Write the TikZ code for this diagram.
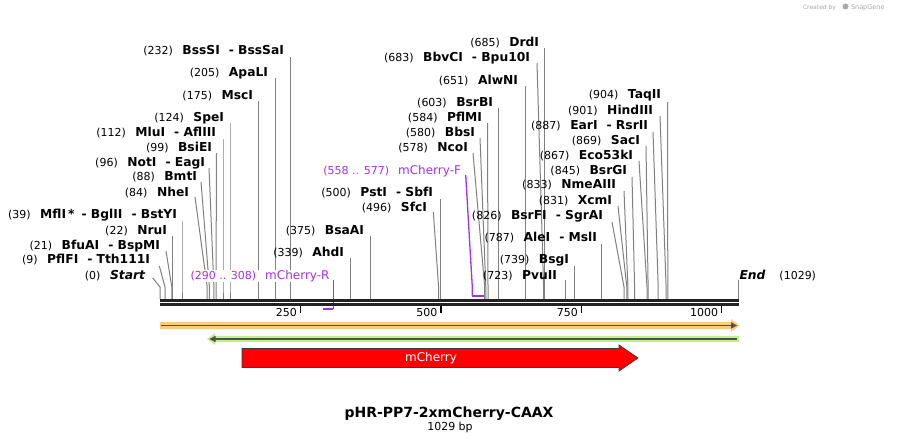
\documentclass[tikz,border=0pt]{standalone}
\usepackage{fontspec}
\setmainfont{DejaVu Sans}
\usetikzlibrary{arrows.meta}
\definecolor{cutgray}{RGB}{128,128,128}
\definecolor{primer}{RGB}{160,50,235}
\definecolor{seqblack}{RGB}{34,34,34}
\definecolor{orangefeat}{RGB}{250,204,125}
\definecolor{greenfeat}{RGB}{192,240,140}
\definecolor{featline}{RGB}{80,80,80}
\definecolor{cdsred}{RGB}{255,0,0}
\definecolor{cdsedge}{RGB}{60,60,60}
\definecolor{logogray}{RGB}{170,170,170}
\newcommand{\posn}[1]{{\fontsize{11}{13}\selectfont(#1)}\hspace{9.5pt}}
\newcommand{\enzn}[1]{{\fontsize{12.3}{14}\selectfont\bfseries #1}}
\newcommand{\sepn}{\hspace{9pt}}
\newcommand{\enz}[7]{%
  \node[lbl, anchor=base east] (#1) at (#2,#3+4.4) {#7};
  \coordinate (#1s) at (#4,#5);
  \coordinate (#1b) at (#6,287);
  \coordinate (#1p) at (#6,299);
  \draw[cutline] (#1s) -- (#1b) -- (#1p);
}
\tikzset{
  lbl/.style={inner sep=0pt, outer sep=0pt},
  cutline/.style={draw=cutgray, line width=1pt},
  primerline/.style={draw=primer, line width=1.3pt},
  primerbar/.style={draw=primer, line width=2pt},
  seqline/.style={draw=seqblack, line width=2.8pt},
  tickmark/.style={draw=black, line width=1.5pt},
  ticklbl/.style={inner sep=0pt, anchor=base east, font=\fontsize{11}{13}\selectfont}
}
\begin{document}
\begin{tikzpicture}[x=1pt,y=-1pt]
\useasboundingbox (0,0) rectangle (899,444);
\fill[white] (0,0) rectangle (899,444);

% logo
\node[lbl, anchor=base west, text=logogray, font=\fontsize{6}{7}\selectfont] (cr) at (803,10) {Created by};
\fill[logogray] (845.5,6.5) circle (3);
\node[lbl, anchor=base west, text=logogray, font=\fontsize{6.5}{7}\selectfont] (sg) at (851,10) {SnapGene};

% left cluster
\enz{eA}{284}{50}{290.3}{57}{290.3}{\posn{232}\enzn{BssSI}\sepn\enzn{- BssSaI}}
\enz{eB}{268}{72}{275.2}{78}{275.2}{\posn{205}\enzn{ApaLI}}
\enz{eC}{253}{95}{258.3}{101}{258.3}{\posn{175}\enzn{MscI}}
\enz{eD}{224}{117}{230}{123}{230}{\posn{124}\enzn{SpeI}}
\enz{eE}{216}{132}{223}{139}{223}{\posn{112}\enzn{MluI}\sepn\enzn{- AflIII}}
\enz{eF}{212}{147}{216.5}{153}{216}{\posn{99}\enzn{BsiEI}}
\enz{eG}{205}{162}{209}{168}{213.9}{\posn{96}\enzn{NotI}\sepn\enzn{- EagI}}
\enz{eH}{197}{176}{201}{182}{209.4}{\posn{88}\enzn{BmtI}}
\enz{eI}{189}{192}{195}{197}{207.2}{\posn{84}\enzn{NheI}}
\enz{eJ}{177}{214}{182}{221}{182}{\posn{39}\enzn{MflI\,*}\hspace{7pt}\enzn{- BglII}\sepn\enzn{- BstYI}}
\enz{eK}{167}{230}{172.4}{236}{172.4}{\posn{22}\enzn{NruI}}
\enz{eL}{160}{245}{166}{251}{171.8}{\posn{21}\enzn{BfuAI}\sepn\enzn{- BspMI}}
\enz{eM}{150}{259}{159.3}{266}{165}{\posn{9}\enzn{PflFI}\sepn\enzn{- Tth111I}}
\enz{eN}{145}{275}{152.7}{278}{160}{\posn{0}{\fontsize{12.3}{14}\selectfont\bfseries\itshape Start}}

% middle cluster
\enz{eO}{364}{230}{370.5}{236}{370.5}{\posn{375}\enzn{BsaAI}}
\enz{eP}{344}{252}{350.4}{258}{350.4}{\posn{339}\enzn{AhdI}}
\enz{eQ}{433}{192}{440.7}{199}{440.7}{\posn{500}\enzn{PstI}\sepn\enzn{- SbfI}}
\enz{eR}{427}{207}{433.3}{212}{438.6}{\posn{496}\enzn{SfcI}}
\enz{eS}{468}{147}{473}{153}{484.7}{\posn{578}\enzn{NcoI}}
\enz{eT}{475}{132}{480}{138}{485.8}{\posn{580}\enzn{BbsI}}
\enz{eU}{482}{117}{487.5}{123}{488}{\posn{584}\enzn{PflMI}}
\enz{eV}{493}{102}{498.7}{108}{498.7}{\posn{603}\enzn{BsrBI}}
\enz{eW}{518}{80}{525.7}{86}{525.7}{\posn{651}\enzn{AlwNI}}
\enz{eX}{530}{57}{537}{63}{543.6}{\posn{683}\enzn{BbvCI}\sepn\enzn{- Bpu10I}}
\enz{eY}{539}{42}{544.6}{48}{544.6}{\posn{685}\enzn{DrdI}}
\enz{eZ}{557}{275}{565.8}{280}{565.8}{\posn{723}\enzn{PvuII}}

% right cluster
\enz{fA}{569}{259}{574.7}{266}{574.7}{\posn{739}\enzn{BsgI}}
\enz{fB}{597}{237}{601.7}{244}{601.7}{\posn{787}\enzn{AleI}\sepn\enzn{- MslI}}
\enz{fC}{603}{215}{612}{222}{624}{\posn{826}\enzn{BsrFI}\sepn\enzn{- SgrAI}}
\enz{fD}{612}{200}{618}{206}{626.8}{\posn{831}\enzn{XcmI}}
\enz{fE}{616}{184}{624}{191}{627.9}{\posn{833}\enzn{NmeAIII}}
\enz{fF}{627}{170}{632}{177}{634.6}{\posn{845}\enzn{BsrGI}}
\enz{fG}{633}{155}{639}{161}{647}{\posn{867}\enzn{Eco53kI}}
\enz{fH}{640}{140}{646}{146}{648.1}{\posn{869}\enzn{SacI}}
\enz{fI}{648}{125}{653}{132}{658.2}{\posn{887}\enzn{EarI}\sepn\enzn{- RsrII}}
\enz{fJ}{653}{110}{660}{116}{666.1}{\posn{901}\enzn{HindIII}}
\enz{fK}{661}{94}{667.5}{102}{667.8}{\posn{904}\enzn{TaqII}}

% End
\node[lbl, anchor=base west] (endl) at (739.5,279.4) {{\fontsize{12.3}{14}\selectfont\bfseries\itshape End}\hspace{14pt}{\fontsize{11}{13}\selectfont(1029)}};
\coordinate (ends) at (738.3,280);
\coordinate (endp) at (738.3,299);
\draw[cutline] (ends) -- (endp);

% primers
\node[lbl, anchor=base east, text=primer, fill=white, inner sep=0.5pt] (pR) at (330,279.4) {{\fontsize{11}{13}\selectfont(290 .. 308)}\hspace{9pt}{\fontsize{12}{14}\selectfont mCherry-R}};
\coordinate (pRs) at (333.3,280);
\coordinate (pRb) at (333.3,309.3);
\coordinate (pRe) at (323,309.3);
\draw[primerline] (pRs) -- (pRb);
\draw[primerbar] (pRb) -- (pRe);

\node[lbl, anchor=base east, text=primer] (pF) at (461,174.4) {{\fontsize{11}{13}\selectfont(558 .. 577)}\hspace{9pt}{\fontsize{12}{14}\selectfont mCherry-F}};
\coordinate (pFs) at (465.7,175);
\coordinate (pFb) at (472.3,287);
\coordinate (pFc) at (472.3,295.7);
\coordinate (pFe) at (483.5,295.7);
\draw[primerline] (pFs) -- (pFb) -- (pFc);
\draw[primerbar] (pFc) -- (pFe);

% sequence
\draw[seqline] (160,300.3) -- (739,300.3);
\draw[seqline] (160,304.3) -- (739,304.3);

% ticks
\draw[tickmark] (300.4,305.5) -- (300.4,313);
\draw[tickmark] (440.9,305.5) -- (440.9,313);
\draw[tickmark] (581.3,305.5) -- (581.3,313);
\draw[tickmark] (721.7,305.5) -- (721.7,313);
\node[ticklbl] (t250) at (297,316) {250};
\node[ticklbl] (t500) at (437.5,316) {500};
\node[ticklbl] (t750) at (578,316) {750};
\node[ticklbl] (t1000) at (718.2,316) {1000};

% orange feature (forward)
\fill[orangefeat] (160,322) -- (731,322) -- (731,319) -- (739.5,325.5) -- (731,332) -- (731,329) -- (160,329) -- cycle;
\draw[featline, line width=1.5pt] (161,325.5) -- (732,325.5);
\fill[featline] (731,322.3) -- (737,325.5) -- (731,328.7) -- cycle;

% green feature (reverse)
\fill[greenfeat] (739,336) -- (215,336) -- (215,333) -- (207,339) -- (215,345) -- (215,342) -- (739,342) -- cycle;
\draw[featline, line width=1.5pt] (737,339) -- (214,339);
\fill[featline] (215.5,335.8) -- (209.5,339) -- (215.5,342.2) -- cycle;

% mCherry CDS
\draw[draw=cdsedge, fill=cdsred, line width=0.8pt] (242,348.5) -- (619,348.5) -- (619,345) -- (638,358) -- (619,371) -- (619,367.5) -- (242,367.5) -- cycle;
\node[lbl, text=white, font=\fontsize{12}{14}\selectfont] (mch) at (431,358) {mCherry};

% title
\node[lbl, anchor=base, font=\fontsize{14}{16}\selectfont\bfseries] (title) at (449,417.5) {pHR-PP7-2xmCherry-CAAX};
\node[lbl, anchor=base, font=\fontsize{11}{13}\selectfont] (len) at (450,430.5) {1029 bp};
\end{tikzpicture}
\end{document}
